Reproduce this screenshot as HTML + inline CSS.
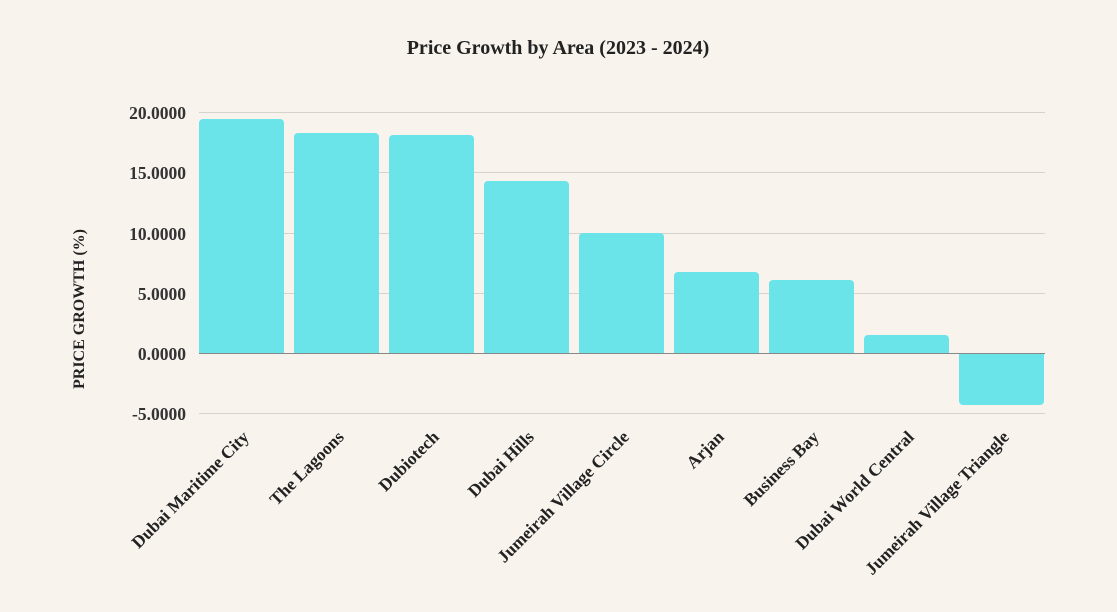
<!DOCTYPE html>
<html><head><meta charset="utf-8"><style>
html,body{margin:0;padding:0;background:#f8f3ed;}
svg{display:block;font-family:"Liberation Serif",serif;}
</style></head><body>
<svg width="1117" height="612" viewBox="0 0 1117 612">
<rect width="1117" height="612" fill="#f8f3ed"/>
<text x="558" y="54" text-anchor="middle" font-size="20" font-weight="bold" fill="#222">Price Growth by Area (2023 - 2024)</text>
<g stroke="#d6d2cc" stroke-width="1">
<line x1="199" x2="1045" y1="112.5" y2="112.5"/>
<line x1="199" x2="1045" y1="172.5" y2="172.5"/>
<line x1="199" x2="1045" y1="233.5" y2="233.5"/>
<line x1="199" x2="1045" y1="293.5" y2="293.5"/>
<line x1="199" x2="1045" y1="413.5" y2="413.5"/>
</g>
<g font-size="17.5" font-weight="bold" fill="#333" text-anchor="end">
<text x="186" y="119">20.0000</text>
<text x="186" y="179">15.0000</text>
<text x="186" y="240">10.0000</text>
<text x="186" y="300">5.0000</text>
<text x="186" y="360">0.0000</text>
<text x="186" y="420">-5.0000</text>
</g>
<text transform="translate(84,309) rotate(-90)" text-anchor="middle" font-size="16" font-weight="bold" fill="#222">PRICE GROWTH (%)</text>
<g fill="#6ae4e8">
<path d="M199,354V123a4,4 0 0 1 4,-4H280a4,4 0 0 1 4,4V354Z"/>
<path d="M294,354V137a4,4 0 0 1 4,-4H375a4,4 0 0 1 4,4V354Z"/>
<path d="M389,354V139a4,4 0 0 1 4,-4H470a4,4 0 0 1 4,4V354Z"/>
<path d="M484,354V185a4,4 0 0 1 4,-4H565a4,4 0 0 1 4,4V354Z"/>
<path d="M579,354V237a4,4 0 0 1 4,-4H660a4,4 0 0 1 4,4V354Z"/>
<path d="M674,354V276a4,4 0 0 1 4,-4H755a4,4 0 0 1 4,4V354Z"/>
<path d="M769,354V284a4,4 0 0 1 4,-4H850a4,4 0 0 1 4,4V354Z"/>
<path d="M864,354V339a4,4 0 0 1 4,-4H945a4,4 0 0 1 4,4V354Z"/>
<path d="M959,354V401a4,4 0 0 0 4,4H1040a4,4 0 0 0 4,-4V354Z"/>
</g>
<line x1="199" x2="1045" y1="353.5" y2="353.5" stroke="#888" stroke-width="1"/>
<g font-size="17.5" font-weight="bold" fill="#222" text-anchor="end">
<text transform="translate(250,438) rotate(-45)">Dubai Maritime City</text>
<text transform="translate(345,438) rotate(-45)">The Lagoons</text>
<text transform="translate(440,438) rotate(-45)">Dubiotech</text>
<text transform="translate(535,438) rotate(-45)">Dubai Hills</text>
<text transform="translate(630,438) rotate(-45)">Jumeirah Village Circle</text>
<text transform="translate(725,438) rotate(-45)">Arjan</text>
<text transform="translate(820,438) rotate(-45)">Business Bay</text>
<text transform="translate(915,438) rotate(-45)">Dubai World Central</text>
<text transform="translate(1010,438) rotate(-45)">Jumeirah Village Triangle</text>
</g>
</svg>
</body></html>
